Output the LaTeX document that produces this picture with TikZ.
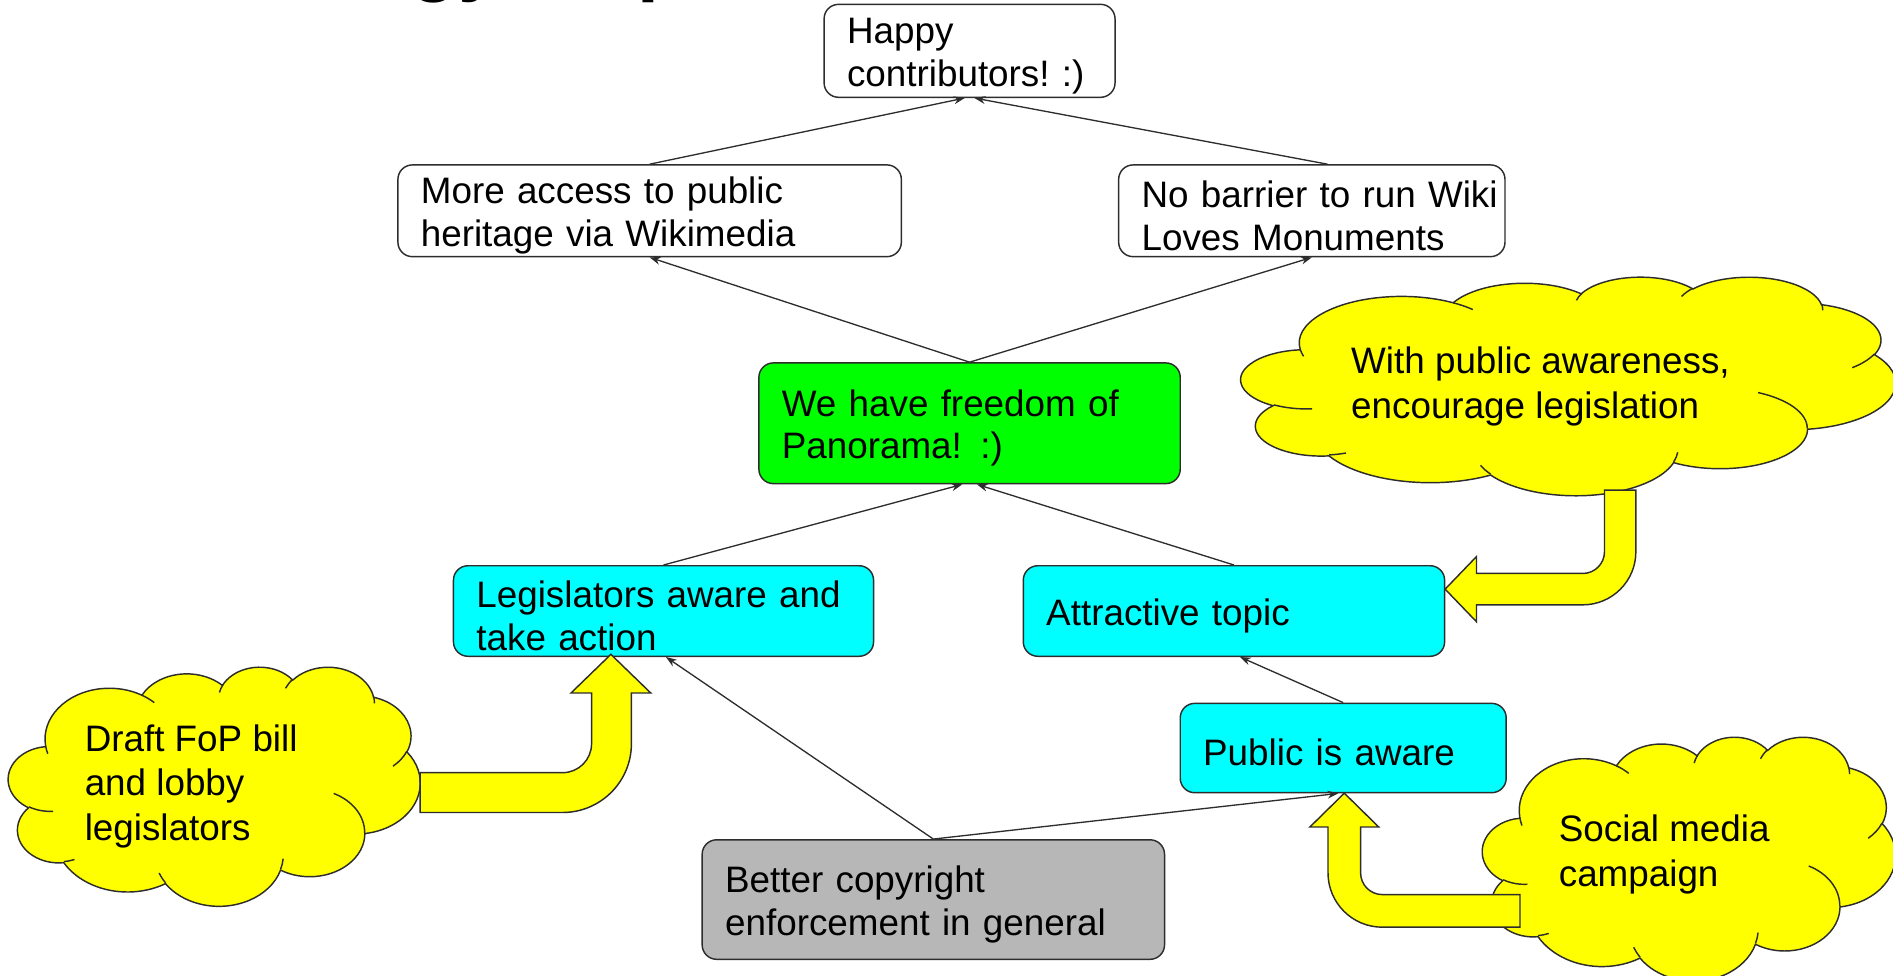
\documentclass[tikz,border=0pt]{standalone}
\usepackage{fontspec}
\setmainfont{Liberation Sans}
\usetikzlibrary{arrows.meta}
\definecolor{linec}{RGB}{45,45,45}
\definecolor{fgreen}{RGB}{0,255,0}
\definecolor{fcyan}{RGB}{0,255,255}
\definecolor{fgrey}{RGB}{183,183,183}
\definecolor{fyellow}{RGB}{255,255,0}

% elliptical arc given OOXML-style visual angles
\newcommand\cldarc[4]{%
  \pgfmathsetmacro\cldA{atan2((#1)*sin(#3),(#2)*cos(#3))}%
  \pgfmathsetmacro\cldB{atan2((#1)*sin((#3)+(#4)),(#2)*cos((#3)+(#4)))}%
  \pgfmathsetmacro\cldD{(\cldB)-(\cldA)}%
  \pgfmathsetmacro\cldE{(\cldA)+((\cldD)<0 ? (\cldD)+360 : (\cldD))}%
  \pgfpatharc{\cldA}{\cldE}{#1pt and #2pt}}

\newcommand\cloudshape{%
 \pgfpathmoveto{\pgfpoint{39pt}{143.70pt}}%
 \cldarc{67.53}{91.90}{-190.4875}{123.7805}%
 \cldarc{53.33}{72.67}{-144.1024}{89.9452}%
 \cldarc{43.65}{59.45}{-145.8079}{99.7230}%
 \cldarc{48.57}{65.95}{-130.9861}{117.2417}%
 \cldarc{53.33}{72.73}{-78.7089}{109.0269}%
 \cldarc{67.75}{92.20}{-46.2673}{130.2690}%
 \cldarc{57.85}{78.67}{0.6250}{114.0333}%
 \cldarc{67.52}{92.15}{22.4516}{115.1726}%
 \cldarc{77.20}{105.43}{66.2426}{75.7110}%
 \cldarc{43.60}{59.18}{-274.9421}{146.7356}%
 \cldarc{43.45}{59.45}{-246.8285}{152.5189}%
 \pgfpathclose}

\newcommand\cloudinner{%
 \pgfpathmoveto{\pgfpoint{46.93pt}{261.77pt}}\cldarc{43.45}{59.45}{86.7420}{26.4295}%
 \pgfpathmoveto{\pgfpoint{69.28pt}{348.99pt}}\cldarc{43.60}{59.18}{73.6105}{11.4475}%
 \pgfpathmoveto{\pgfpoint{164.78pt}{390.90pt}}\cldarc{67.52}{92.15}{137.6242}{14.0811}%
 \pgfpathmoveto{\pgfpoint{288.27pt}{347.51pt}}\cldarc{67.52}{92.15}{6.4533}{15.9984}%
 \pgfpathmoveto{\pgfpoint{341.29pt}{229.54pt}}\cldarc{57.85}{78.67}{-70.2924}{70.9174}%
 \pgfpathmoveto{\pgfpoint{417.98pt}{153.54pt}}\cldarc{53.33}{72.73}{30.3180}{27.7515}%
 \pgfpathmoveto{\pgfpoint{383.24pt}{54.26pt}}\cldarc{48.57}{65.95}{-13.7443}{14.8589}%
 \pgfpathmoveto{\pgfpoint{290.78pt}{39.52pt}}\cldarc{48.57}{65.95}{-149.1815}{18.1954}%
 \pgfpathmoveto{\pgfpoint{221.41pt}{47.20pt}}\cldarc{43.65}{59.45}{-163.4943}{17.6864}%
 \pgfpathmoveto{\pgfpoint{140.00pt}{51.92pt}}\cldarc{67.53}{91.90}{-66.7070}{12.3194}%
 \pgfpathmoveto{\pgfpoint{41.27pt}{157.89pt}}\cldarc{67.53}{91.90}{157.6544}{11.8582}%
}

% draw a cloud in box: x, y (top-left), width, height
\newcommand\drawcloud[4]{%
 \begin{scope}[shift={(#1,#2)},xscale=#3/432,yscale=-#4/432]
  \pgfsetfillcolor{fyellow}\pgfsetstrokecolor{linec}\pgfsetlinewidth{1.2pt}%
  \cloudshape\pgfusepath{fill,stroke}%
  \cloudinner\pgfusepath{stroke}%
 \end{scope}}

% extra height in the first line, so the text sits a little lower in its box
\newcommand\firsth{\rule{0pt}{30pt}}

\begin{document}
\begin{tikzpicture}[x=1pt,y=-1pt,
  box/.style={draw=linec,line width=1.2pt,rounded corners=12pt,anchor=north west,
    inner xsep=19pt,inner ysep=0pt,align=left,font=\fontsize{30.5}{35.5}\selectfont},
  link/.style={draw=linec,line width=1.1pt,-{Stealth[length=9pt,width=6.5pt]}},
  blockarrow/.style={fill=fyellow,draw=linec,line width=1.2pt,line join=miter},
  cloudtext/.style={anchor=north west,inner sep=0pt,align=left,font=\fontsize{30.5}{37}\selectfont}]
\useasboundingbox (0,0) rectangle (1568,808);
\clip (0,0) rectangle (1568,808);

% title (cut off at the top)
\node[anchor=base west,inner sep=0pt,font=\bfseries\fontsize{65}{78}\selectfont] (title) at (156,-11) {Strategy map};

% clouds
\drawcloud{1028}{229}{542}{181}
\drawcloud{7}{552}{341}{198}
\drawcloud{1228}{610}{342}{202}

\node[cloudtext] (cloudA) at (1119,287) {With public awareness,\\encourage legislation};
\node[cloudtext] (cloudB) at (70,600) {Draft FoP bill\\and lobby\\legislators};
\node[cloudtext] (cloudC) at (1291,675) {Social media\\campaign};

% boxes
\node[box,fill=white,text width=203pt,minimum height=77pt] (happy) at (682,3) {\firsth Happy\\contributors!~:)};
\node[box,fill=white,text width=379pt,minimum height=76pt] (more) at (329,136) {\firsth More access to public\\heritage via Wikimedia};
\node[box,fill=white,text width=282pt,minimum height=76pt] (nobar) at (926,136) {\firsth\mbox{No barrier to run Wiki}\\Loves Monuments};
\node[box,fill=fgreen,text width=311pt,minimum height=100pt] (green) at (628,300) {\firsth We have freedom of\\Panorama! :)};
\node[box,fill=fcyan,text width=310pt,minimum height=75pt] (legis) at (375,468) {\firsth\mbox{Legislators aware and}\\take action};
\node[box,fill=fcyan,text width=311pt,minimum height=75pt] (attr) at (847,468) {\firsth Attractive topic};
\node[box,fill=fcyan,text width=232pt,minimum height=74pt] (public) at (977,582) {\firsth Public is aware};
\node[box,fill=fgrey,text width=345pt,minimum height=99pt] (better) at (581,695) {\firsth Better copyright\\enforcement in general};

% connectors
\draw[link] (more.north) -- ([xshift=-4pt]happy.south);
\draw[link] ([xshift=13pt]nobar.north) -- ([xshift=4pt]happy.south);
\draw[link] (green.north) -- (more.south);
\draw[link] (green.north) -- (nobar.south);
\draw[link] (legis.north) -- ([xshift=-6pt]green.south);
\draw[link] (attr.north) -- ([xshift=6pt]green.south);
\draw[link] (public.north) -- ([xshift=5pt]attr.south);
\draw[link] (better.north) -- ([xshift=2pt]legis.south);
\draw[link] (better.north) -- ([xshift=-4pt]public.south);

% yellow block arrows
\draw[blockarrow] (348,640) -- (466,640) arc[start angle=90,end angle=0,radius=24]
  -- (490,574) -- (473,574) -- (506,542) -- (539,574) -- (523,574) -- (523,616)
  arc[start angle=0,end angle=90,radius=57] -- (348,673) -- cycle;
\draw[blockarrow] (1329,406) -- (1329,457) arc[start angle=0,end angle=90,radius=18]
  -- (1223,475) -- (1223,461) -- (1197,488) -- (1223,515) -- (1223,501) -- (1311,501)
  arc[start angle=90,end angle=0,radius=44] -- (1355,406) -- cycle;
\draw[blockarrow] (1259,741) -- (1145,741) arc[start angle=90,end angle=180,radius=18]
  -- (1127,685) -- (1142,685) -- (1113.5,657) -- (1085,685) -- (1100,685) -- (1100,723)
  arc[start angle=180,end angle=90,radius=45] -- (1259,768) -- cycle;
\end{tikzpicture}
\end{document}
